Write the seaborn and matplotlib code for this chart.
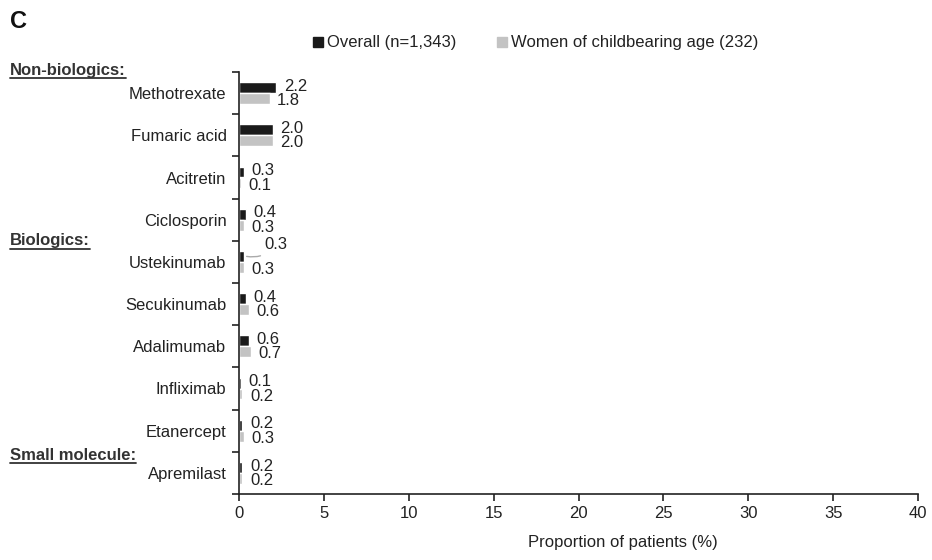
import matplotlib
matplotlib.use("Agg")
import matplotlib.pyplot as plt
import seaborn as sns
import pandas as pd
import numpy as np
from matplotlib.lines import Line2D

drugs = ["Methotrexate", "Fumaric acid", "Acitretin", "Ciclosporin", "Ustekinumab",
         "Secukinumab", "Adalimumab", "Infliximab", "Etanercept", "Apremilast"]
overall = [2.2, 2.0, 0.3, 0.4, 0.3, 0.4, 0.6, 0.1, 0.2, 0.2]
women = [1.8, 2.0, 0.1, 0.3, 0.3, 0.6, 0.7, 0.2, 0.3, 0.2]
series = ["Overall (n=1,343)", "Women of childbearing age (232)"]
groups = ["Non-biologics:", "Biologics:", "Small molecule:"]
xticks = [0, 5, 10, 15, 20, 25, 30, 35, 40]

df = pd.DataFrame({
    "drug": drugs * 2,
    "value": overall + women,
    "series": [series[0]] * len(drugs) + [series[1]] * len(drugs),
})

sns.set_theme(style="white")
plt.rcParams["font.family"] = ["Liberation Sans", "DejaVu Sans"]

FS = 12
TXT = "#222222"

fig = plt.figure(figsize=(9.32, 5.6), dpi=100)
ax = fig.add_axes([239 / 932, 1 - 494 / 560, (918 - 239) / 932, (494 - 72) / 560])

colors = ["#1a1a1a", "#c3c3c3"]
sns.barplot(data=df, y="drug", x="value", hue="series", orient="h",
            palette=colors, width=0.52, ax=ax, legend=False, order=drugs,
            hue_order=series, saturation=1)

ax.set_xlim(0, 40)
ax.set_ylim(len(drugs) - 0.5, -0.5)
ax.set_xticks(xticks)
ax.set_xticklabels([str(t) for t in xticks], fontsize=FS, color=TXT)

# y ticks: major at boundaries (marks), minor at centers (labels)
ax.set_yticks(np.arange(-0.5, len(drugs), 1.0))
ax.set_yticklabels([])
ax.set_yticks(np.arange(len(drugs)), minor=True)
ax.set_yticklabels(drugs, minor=True, fontsize=FS, color=TXT)
ax.tick_params(axis="y", which="major", direction="out", length=5, width=1.2, color=TXT, left=True)
ax.tick_params(axis="y", which="minor", length=0, pad=9)
ax.tick_params(axis="x", direction="out", length=5, width=1.2, color=TXT, bottom=True, pad=4)

for s in ["top", "right"]:
    ax.spines[s].set_visible(False)
for s in ["left", "bottom"]:
    ax.spines[s].set_color(TXT)
    ax.spines[s].set_linewidth(1.2)

ax.set_ylabel("")
ax.set_xlabel("")
fig.text(623 / 932, 1 - 542 / 560, "Proportion of patients (%)", fontsize=FS, color=TXT,
         ha="center", va="center")

# value labels
for ci, cont in enumerate(ax.containers):
    vals = overall if ci == 0 else women
    dy = -0.03 if ci == 0 else 0.05
    for j, bar in enumerate(cont):
        yc = bar.get_y() + bar.get_height() / 2
        xe = bar.get_width()
        if ci == 0 and drugs[j] == "Ustekinumab":
            ax.annotate(f"{vals[j]:.1f}", xy=(xe + 0.15, yc), xytext=(xe + 1.2, yc - 0.28),
                        fontsize=FS, color=TXT, va="center", ha="left",
                        arrowprops=dict(arrowstyle="-", color="#aaaaaa", lw=1,
                                        shrinkA=1, shrinkB=0,
                                        connectionstyle="arc3,rad=-0.3"))
        else:
            ax.text(xe + 0.45, yc + dy, f"{vals[j]:.1f}", fontsize=FS, color=TXT,
                    va="center", ha="left")

# group headers (bold, underlined)
header_y = [70, 241, 455]
fig.canvas.draw()
renderer = fig.canvas.get_renderer()
for name, ypx in zip(groups, header_y):
    t = fig.text(10 / 932, 1 - ypx / 560, name, fontsize=FS, fontweight="bold",
                 color="#333333", ha="left", va="center")
    bb = t.get_window_extent(renderer=renderer)
    x0, x1 = bb.x0 / fig.bbox.width, bb.x1 / fig.bbox.width
    yl = (bb.y0 - 0.5) / fig.bbox.height
    fig.add_artist(Line2D([x0, x1], [yl, yl], color="#333333", lw=1.3, transform=fig.transFigure))

fig.text(10 / 932, 1 - 22 / 560, "C", fontsize=17, fontweight="bold", color="#111111",
         ha="left", va="center")

handles = [Line2D([], [], marker="s", linestyle="none", markersize=7, color=c) for c in colors]
fig.legend(handles, series, loc="center", bbox_to_anchor=(534 / 932, 1 - 43 / 560),
           ncol=2, frameon=False, fontsize=FS, handletextpad=0.05, columnspacing=2.2,
           handlelength=1.0, labelcolor=TXT)

fig.savefig("out.png", dpi=100, facecolor="white")
